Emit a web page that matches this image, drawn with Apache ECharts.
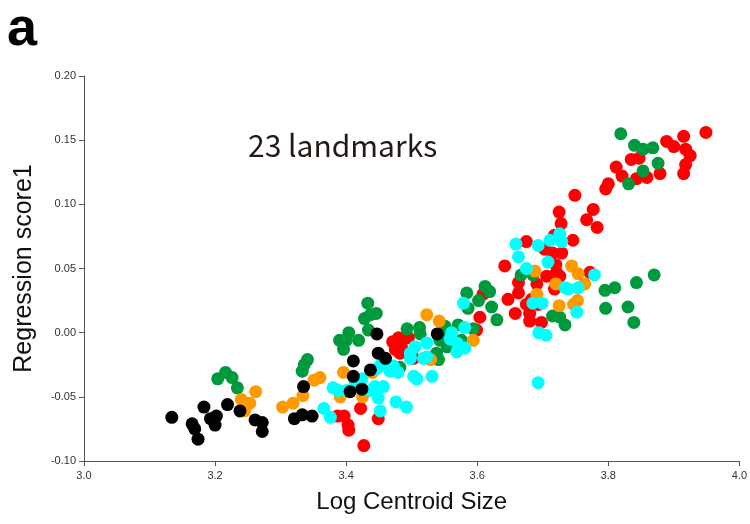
<!DOCTYPE html>
<html>
<head>
    <meta charset="utf-8">
    <title>Regression score</title>
    <script src="https://cdn.jsdelivr.net/npm/echarts@6/dist/echarts.min.js"></script>
    <style>
        body { margin: 0; background: #fff; }
    </style>
</head>
<body>
<div id="main" style="width: 750px;height:524px;"></div>
<script type="text/javascript">
    // values: [log centroid size, regression score1]
    var blackPts = [
        [3.134, -0.066], [3.165, -0.071], [3.169, -0.075], [3.174, -0.083], [3.183, -0.058],
        [3.193, -0.067], [3.202, -0.065], [3.200, -0.072], [3.219, -0.056], [3.238, -0.061],
        [3.261, -0.068], [3.272, -0.070], [3.272, -0.077], [3.321, -0.067], [3.333, -0.064],
        [3.348, -0.065], [3.335, -0.042], [3.411, -0.022], [3.411, -0.034], [3.437, -0.029],
        [3.424, -0.044], [3.406, -0.046], [3.447, -0.001], [3.449, -0.016], [3.460, -0.020],
        [3.539, -0.001]
    ];
    var greenPts = [
        [3.204, -0.036], [3.216, -0.031], [3.226, -0.035], [3.234, -0.043], [3.341, -0.021],
        [3.336, -0.025], [3.333, -0.030], [3.390, -0.006], [3.433, 0.023], [3.446, 0.015],
        [3.437, 0.014], [3.428, 0.011], [3.434, 0.002], [3.404, 0.000], [3.400, -0.006],
        [3.419, -0.006], [3.396, -0.013], [3.493, 0.003], [3.512, 0.004], [3.513, -0.001],
        [3.551, 0.005], [3.556, 0.000], [3.559, -0.008], [3.554, -0.011], [3.538, -0.016],
        [3.541, -0.021], [3.576, -0.006], [3.586, 0.019], [3.602, 0.025], [3.482, -0.027],
        [3.584, 0.031], [3.612, 0.036], [3.619, 0.032], [3.622, 0.020], [3.630, 0.010],
        [3.571, 0.006], [3.594, 0.003], [3.543, -0.006], [3.667, 0.045], [3.685, 0.045],
        [3.715, 0.013], [3.726, 0.012], [3.734, 0.006], [3.795, 0.033], [3.810, 0.035],
        [3.843, 0.039], [3.796, 0.019], [3.830, 0.020], [3.839, 0.008], [3.819, 0.155],
        [3.840, 0.146], [3.853, 0.143], [3.868, 0.144], [3.876, 0.132], [3.853, 0.126],
        [3.831, 0.116], [3.870, 0.045]
    ];
    var orangePts = [
        [3.262, -0.046], [3.240, -0.052], [3.253, -0.055], [3.245, -0.061], [3.303, -0.058],
        [3.319, -0.055], [3.334, -0.049], [3.351, -0.037], [3.360, -0.035], [3.391, -0.050],
        [3.396, -0.031], [3.425, -0.050], [3.523, 0.014], [3.542, 0.009], [3.529, -0.021],
        [3.594, -0.006], [3.691, 0.030], [3.688, 0.048], [3.744, 0.052], [3.754, 0.046],
        [3.764, 0.038], [3.720, 0.038], [3.725, 0.021], [3.747, 0.022], [3.753, 0.025],
        [3.440, -0.031]
    ];
    var cyanPts = [
        [3.366, -0.059], [3.376, -0.066], [3.380, -0.043], [3.388, -0.045], [3.401, -0.045],
        [3.414, -0.039], [3.424, -0.036], [3.437, -0.045], [3.444, -0.042], [3.457, -0.042],
        [3.447, -0.028], [3.455, -0.024], [3.467, -0.030], [3.479, -0.031], [3.498, -0.020],
        [3.505, -0.011], [3.523, -0.008], [3.523, -0.019], [3.508, -0.036], [3.531, -0.034],
        [3.449, -0.051], [3.476, -0.054], [3.492, -0.058], [3.452, -0.061], [3.472, -0.026],
        [3.503, -0.034], [3.579, 0.023], [3.581, 0.004], [3.561, 0.000], [3.559, -0.005],
        [3.498, -0.016], [3.569, -0.008], [3.581, -0.012], [3.518, -0.020], [3.569, -0.015],
        [3.685, 0.023], [3.693, -0.039], [3.659, 0.069], [3.693, 0.068], [3.711, 0.072],
        [3.726, 0.077], [3.729, 0.071], [3.663, 0.059], [3.708, 0.055], [3.675, 0.050],
        [3.779, 0.045], [3.734, 0.035], [3.739, 0.034], [3.754, 0.035], [3.699, 0.023],
        [3.752, 0.016], [3.694, 0.000], [3.705, -0.002]
    ];
    var redPts = [
        [3.471, -0.007], [3.480, -0.004], [3.484, -0.010], [3.475, -0.013], [3.489, -0.015],
        [3.482, -0.016], [3.495, -0.004], [3.503, -0.020], [3.387, -0.065], [3.397, -0.065],
        [3.403, -0.072], [3.404, -0.076], [3.422, -0.059], [3.449, -0.067], [3.427, -0.088],
        [3.604, 0.012], [3.599, 0.002], [3.609, 0.030], [3.647, 0.026], [3.663, 0.031],
        [3.658, 0.015], [3.675, 0.022], [3.680, 0.015], [3.680, 0.009], [3.693, 0.022],
        [3.691, 0.038], [3.663, 0.039], [3.812, 0.129], [3.821, 0.122], [3.835, 0.135],
        [3.800, 0.116], [3.796, 0.112], [3.749, 0.107], [3.777, 0.096], [3.767, 0.088],
        [3.783, 0.082], [3.725, 0.094], [3.728, 0.085], [3.718, 0.076], [3.746, 0.072],
        [3.675, 0.071], [3.703, 0.065], [3.715, 0.062], [3.729, 0.062], [3.642, 0.052],
        [3.720, 0.053], [3.721, 0.047], [3.706, 0.044], [3.726, 0.044], [3.772, 0.047],
        [3.718, 0.034], [3.683, 0.026], [3.698, 0.008], [3.949, 0.156], [3.915, 0.153],
        [3.889, 0.149], [3.900, 0.145], [3.918, 0.143], [3.925, 0.138], [3.918, 0.131],
        [3.915, 0.124], [3.879, 0.124], [3.859, 0.121], [3.843, 0.120], [3.847, 0.136]
    ];

    var xTicks = [3.0, 3.2, 3.4, 3.6, 3.8, 4.0];
    var yTicks = [-0.10, -0.05, 0.00, 0.05, 0.10, 0.15, 0.20];

    var myChart = echarts.init(document.getElementById('main'), null, {renderer: 'canvas'});

    function dots(name, data, color) {
        return {
            name: name,
            type: 'scatter',
            data: data,
            symbolSize: 13,
            itemStyle: {color: color, opacity: 1},
            emphasis: {disabled: true}
        };
    }

    var option = {
        backgroundColor: '#fff',
        animation: false,
        grid: {left: 84, right: 10, top: 76, bottom: 63},
        xAxis: {
            type: 'value',
            min: xTicks[0],
            max: xTicks[xTicks.length - 1],
            interval: 0.2,
            name: 'Log Centroid Size',
            nameLocation: 'middle',
            nameGap: 29,
            nameTextStyle: {fontSize: 24, color: '#111', fontFamily: 'Liberation Sans'},
            axisLine: {onZero: false, lineStyle: {color: '#555', width: 1}},
            axisTick: {show: true, length: 5, lineStyle: {color: '#555'}},
            axisLabel: {
                fontSize: 11, color: '#333', margin: 9, fontFamily: 'Liberation Sans',
                formatter: function (v) { return v.toFixed(1); }
            },
            splitLine: {show: false}
        },
        yAxis: {
            type: 'value',
            min: yTicks[0],
            max: yTicks[yTicks.length - 1],
            interval: 0.05,
            name: 'Regression score1',
            nameLocation: 'middle',
            nameGap: 47,
            nameTextStyle: {fontSize: 25, color: '#111', fontFamily: 'Liberation Sans'},
            axisLine: {show: true, onZero: false, lineStyle: {color: '#555', width: 1}},
            axisTick: {show: true, length: 5, lineStyle: {color: '#555'}},
            axisLabel: {
                fontSize: 11, color: '#333', margin: 8, fontFamily: 'Liberation Sans',
                formatter: function (v) { return v.toFixed(2); }
            },
            splitLine: {show: false}
        },
        graphic: [
            {
                type: 'text', left: 7, top: 3,
                style: {text: 'a', fontSize: 54, fontWeight: 'bold', fill: '#000', fontFamily: 'Liberation Sans'}
            },
            {
                type: 'text', left: 248, top: 131,
                style: {text: '23 landmarks', fontSize: 30, fill: '#231815', fontFamily: 'Noto Sans CJK JP'}
            }
        ],
        series: [
            dots('red', redPts, '#ff0000'),
            dots('green', greenPts, '#009a3e'),
            dots('orange', orangePts, '#ff9900'),
            dots('cyan', cyanPts, '#00ffff'),
            dots('black', blackPts, '#000000')
        ]
    };

    myChart.setOption(option);
</script>
</body>
</html>
